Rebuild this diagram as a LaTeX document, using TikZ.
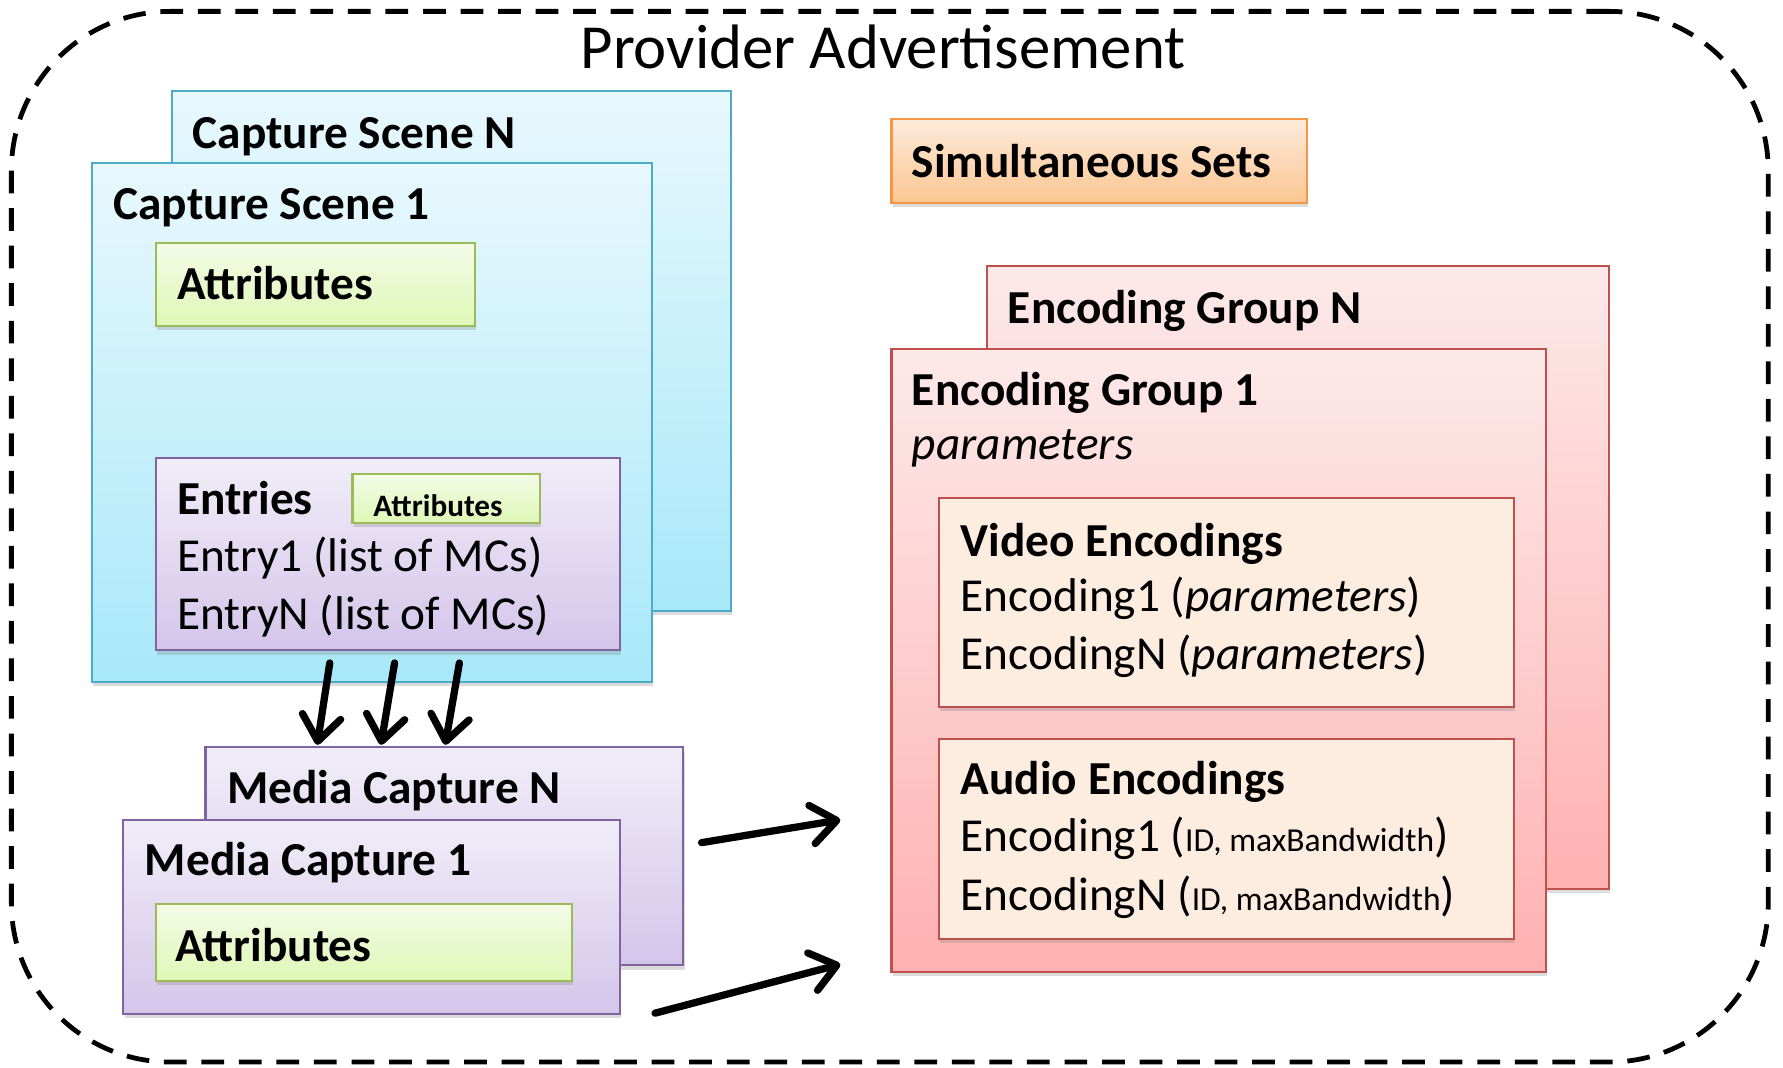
\documentclass[tikz,border=0pt]{standalone}
\usepackage{fontspec}
\setmainfont{Carlito}
\usetikzlibrary{arrows.meta,shadows,fit}
\definecolor{sceneB}{HTML}{4BACC6}
\definecolor{sceneT}{HTML}{E8F8FD}
\definecolor{sceneD}{HTML}{A8E8F9}
\definecolor{attrB}{HTML}{9BBB59}
\definecolor{attrT}{HTML}{F4FBE8}
\definecolor{attrD}{HTML}{DEF7B6}
\definecolor{purpB}{HTML}{8064A2}
\definecolor{purpT}{HTML}{F1EDF8}
\definecolor{purpD}{HTML}{D4C5EA}
\definecolor{orB}{HTML}{F79646}
\definecolor{orT}{HTML}{FDEADB}
\definecolor{orD}{HTML}{FCC692}
\definecolor{redB}{HTML}{C0504D}
\definecolor{redT}{HTML}{FDE9E9}
\definecolor{redD}{HTML}{FFB1B1}
\definecolor{encF}{HTML}{FDEDE0}
\begin{document}
\begin{tikzpicture}[x=0.5pt,y=-0.5pt,
  lbl/.style={anchor=base west, inner sep=0pt, font=\fontsize{20.8pt}{25pt}\selectfont},
  bl/.style={anchor=base west, inner sep=0pt, font=\fontsize{20.8pt}{25pt}\selectfont\bfseries},
  sbl/.style={anchor=base west, inner sep=0pt, font=\fontsize{13.7pt}{16pt}\selectfont\bfseries},
  box/.style={inner sep=0pt, line width=0.9pt, drop shadow={shadow xshift=0.5pt, shadow yshift=-1.8pt, opacity=0.28}},
  scene/.style={box, draw=sceneB, top color=sceneT, bottom color=sceneD},
  attr/.style={box, draw=attrB, top color=attrT, bottom color=attrD},
  purp/.style={box, draw=purpB, top color=purpT, bottom color=purpD},
  orng/.style={box, draw=orB, top color=orT, bottom color=orD},
  grp/.style={box, draw=redB, top color=redT, bottom color=redD},
  enc/.style={box, draw=redB, fill=encF},
  frame/.style={draw=black, line width=2.1pt, dash pattern=on 10pt off 6.5pt, rounded corners=70pt, inner sep=0pt},
  arr/.style={line width=3.2pt, line cap=round, line join=round, -{Straight Barb[length=11pt,width=17pt,round]}}
]
\useasboundingbox (0,0) rectangle (1568,939.2);
\node[frame, fit={(10,10) (1555,934)}] (outer) {};
\node[anchor=base, inner sep=0pt, font=\fontsize{27.6pt}{32pt}\selectfont] (title) at (776.5,60) {Provider Advertisement};

% Capture scenes
\node[scene, fit={(151,80) (643,537)}] (csN) {};
\node[bl] (csNt) at (169,131) {Capture Scene N};
\node[scene, fit={(81,143) (573,600)}] (cs1) {};
\node[bl] (cs1t) at (99.5,192.6) {Capture Scene 1};
\node[attr, fit={(137,213.5) (418,286.5)}] (attr1) {};
\node[bl] (attr1t) at (155.5,263.5) {Attributes};
\node[purp, fit={(137,403) (545,572)}] (entries) {};
\node[bl] (entt) at (155.5,452.7) {Entries};
\node[attr, fit={(310,417) (475,460)}] (attr2) {};
\node[sbl] (attr2t) at (328,454) {Attributes};
\node[lbl] (e1) at (155.5,502.4) {Entry1 (list of MCs)};
\node[lbl] (eN) at (155.5,554) {EntryN (list of MCs)};

% Simultaneous sets
\node[orng, fit={(784,104.5) (1149,178.6)}] (sim) {};
\node[bl] (simt) at (801.6,156) {Simultaneous Sets};

% Encoding groups
\node[grp, fit={(868,234) (1415,782)}] (egN) {};
\node[bl] (egNt) at (886,284.6) {Encoding Group N};
\node[grp, fit={(784,307) (1359.5,855)}] (eg1) {};
\node[bl] (eg1t) at (801.6,356.7) {Encoding Group 1};
\node[lbl, font=\fontsize{20.8pt}{25pt}\selectfont\itshape] (eg1p) at (801.6,404) {parameters};
\node[enc, fit={(826,438) (1331,621.4)}] (video) {};
\node[bl] (videot) at (844.6,489) {Video Encodings};
\node[lbl] (v1) at (844.6,537.8) {Encoding1 (\textit{parameters})};
\node[lbl] (vN) at (844.6,588.7) {EncodingN (\textit{parameters})};
\node[enc, fit={(826,650) (1331,826)}] (audio) {};
\node[bl] (audiot) at (844.6,699) {Audio Encodings};
\node[lbl] (a1) at (844.6,749) {Encoding1 ({\fontsize{14.75pt}{18pt}\selectfont ID, maxBandwidth})};
\node[lbl] (aN) at (844.6,800.7) {EncodingN ({\fontsize{14.75pt}{18pt}\selectfont ID, maxBandwidth})};

% Media captures
\node[purp, fit={(180.7,657) (601,849)}] (mcN) {};
\node[bl] (mcNt) at (199.4,706.8) {Media Capture N};
\node[purp, fit={(108.5,721) (545,891.5)}] (mc1) {};
\node[bl] (mc1t) at (127,770) {Media Capture 1};
\node[attr, fit={(137,795) (503,863)}] (attr3) {};
\node[bl] (attr3t) at (154,845.5) {Attributes};

% Arrows
\coordinate (s1) at (290,583);  \coordinate (t1) at (279,655);
\coordinate (s2) at (347,583);  \coordinate (t2) at (335,655);
\coordinate (s3) at (404,583);  \coordinate (t3) at (391.5,655);
\coordinate (s4) at (617,741);  \coordinate (t4) at (739,721);
\coordinate (s5) at (576,891); \coordinate (t5) at (739,848);
\draw[arr] (s1) -- (t1);
\draw[arr] (s2) -- (t2);
\draw[arr] (s3) -- (t3);
\draw[arr] (s4) -- (t4);
\draw[arr] (s5) -- (t5);
\end{tikzpicture}
\end{document}
